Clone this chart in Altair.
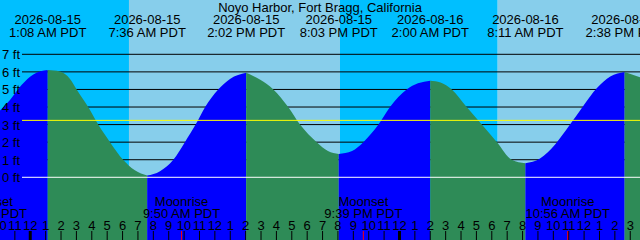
import altair as alt
import pandas as pd

# ---------------- data ----------------
title_text = "Noyo Harbor, Fort Bragg, California"

curve_times = [
    "2026-08-14 22:02", "2026-08-14 22:41", "2026-08-14 23:26", "2026-08-15 00:12",
    "2026-08-15 01:08", "2026-08-15 01:56", "2026-08-15 02:35", "2026-08-15 03:01",
    "2026-08-15 03:46", "2026-08-15 04:25", "2026-08-15 05:11", "2026-08-15 06:02",
    "2026-08-15 06:48", "2026-08-15 07:36", "2026-08-15 08:26", "2026-08-15 09:18",
    "2026-08-15 10:03", "2026-08-15 10:45", "2026-08-15 11:22", "2026-08-15 12:13",
    "2026-08-15 12:59", "2026-08-15 14:02", "2026-08-15 14:57", "2026-08-15 15:48",
    "2026-08-15 16:46", "2026-08-15 17:32", "2026-08-15 18:37", "2026-08-15 19:21",
    "2026-08-15 20:03", "2026-08-15 20:55", "2026-08-15 21:39", "2026-08-15 22:38",
    "2026-08-15 23:23", "2026-08-16 00:28", "2026-08-16 01:12", "2026-08-16 02:00",
    "2026-08-16 02:40", "2026-08-16 03:24", "2026-08-16 04:22", "2026-08-16 05:21",
    "2026-08-16 06:20", "2026-08-16 07:18", "2026-08-16 08:11", "2026-08-16 09:08",
    "2026-08-16 10:07", "2026-08-16 11:05", "2026-08-16 11:56", "2026-08-16 12:51",
    "2026-08-16 13:42", "2026-08-16 14:38", "2026-08-16 15:38",
]
curve_feet = [
    3.8, 4.4, 5.25, 5.85,
    6.1, 6.02, 5.6, 5.0,
    4.0, 3.0, 2.0, 1.0,
    0.4, 0.1, 0.35, 1.0,
    2.0, 3.0, 4.0, 5.0,
    5.6, 5.95, 5.55, 5.0,
    4.0, 3.0, 2.0, 1.5,
    1.33, 1.5, 2.0, 3.0,
    4.0, 5.0, 5.35, 5.5,
    5.4, 5.0, 4.0, 3.0,
    2.0, 1.0, 0.8, 1.07,
    1.87, 3.0, 4.05, 5.09,
    5.74, 6.0, 5.7,
]

extreme_times = ["2026-08-15 01:08", "2026-08-15 07:36", "2026-08-15 14:02", "2026-08-15 20:03",
                 "2026-08-16 02:00", "2026-08-16 08:11", "2026-08-16 14:38"]
extreme_kinds = ["high", "low", "high", "low", "high", "low", "high"]
extreme_dates = ["2026-08-15", "2026-08-15", "2026-08-15", "2026-08-15",
                 "2026-08-16", "2026-08-16", "2026-08-16"]
extreme_clock = ["1:08 AM PDT", "7:36 AM PDT", "2:02 PM PDT", "8:03 PM PDT",
                 "2:00 AM PDT", "8:11 AM PDT", "2:38 PM PDT"]

sun_times = ["2026-08-15 06:25", "2026-08-15 20:08", "2026-08-16 06:23"]   # rise, set, rise

moon_times = ["2026-08-14 21:15", "2026-08-15 09:50", "2026-08-15 21:39", "2026-08-16 10:56"]
moon_events = ["Moonset", "Moonrise", "Moonset", "Moonrise"]
moon_clock = ["9:15 PM PDT", "9:50 AM PDT", "9:39 PM PDT", "10:56 AM PDT"]

grid_feet = [1, 2, 3, 4, 5, 6, 7]
label_feet = [0, 1, 2, 3, 4, 5, 6, 7]
datum_feet = [0]
msl_feet = [3.24]

view_start = "2026-08-14 22:02"
view_end = "2026-08-16 15:38"

# ---------------- colours ----------------
NIGHT = "#00bfff"
DAY = "#87ceeb"
FLOOD = "#0000ff"
EBB = "#2e8b57"
FONT = "Liberation Sans"

# ---------------- helpers ----------------
ref = pd.Timestamp("2026-08-15 00:00")


def hrs(ts):
    return [(pd.Timestamp(t) - ref) / pd.Timedelta(hours=1) for t in ts]


x0, x1 = hrs([view_start, view_end])
xs = alt.Scale(domain=[x0, x1], nice=False, zero=False)
ys = alt.Scale(domain=[-3.569, 10.091], nice=False, zero=False)

# background bands
sun_h = hrs(sun_times)
edges = [x0] + sun_h + [x1]
band_rows = []
for i in range(len(edges) - 1):
    band_rows.append({"a": edges[i], "b": edges[i + 1], "c": NIGHT if i % 2 == 0 else DAY})
bands = alt.Chart(pd.DataFrame(band_rows)).mark_rect().encode(
    x=alt.X("a:Q", scale=xs, axis=None), x2="b:Q",
    y=alt.value(0), y2=alt.value(240),
    color=alt.Color("c:N", scale=None),
)

# gridlines
grid = alt.Chart(pd.DataFrame({"ft": grid_feet})).mark_rule(color="black", strokeWidth=1).encode(
    y=alt.Y("ft:Q", scale=ys, axis=None), x=alt.value(22), x2=alt.value(640)
)

# tide area split into flood / ebb segments
curve_h = hrs(curve_times)
ext_h = hrs(extreme_times)
bounds = [x0] + ext_h + [x1]
rows = []
for i in range(len(bounds) - 1):
    lo, hi = bounds[i], bounds[i + 1]
    if i < len(extreme_kinds):
        rising = extreme_kinds[i] == "high"
    else:
        rising = extreme_kinds[-1] == "low"
    for t, f in zip(curve_h, curve_feet):
        if lo - 1e-6 <= t <= hi + 1e-6:
            rows.append({"h": t, "ft": f, "seg": i, "c": FLOOD if rising else EBB})
tide = alt.Chart(pd.DataFrame(rows)).mark_area(interpolate="monotone").encode(
    x=alt.X("h:Q", scale=xs, axis=None),
    y=alt.Y("ft:Q", scale=ys, axis=None, stack=None),
    y2=alt.value(240),
    detail="seg:N",
    color=alt.Color("c:N", scale=None),
)

datum = alt.Chart(pd.DataFrame({"ft": datum_feet})).mark_rule(color="white", strokeWidth=1).encode(
    y=alt.Y("ft:Q", scale=ys, axis=None), x=alt.value(22), x2=alt.value(640)
)
msl = alt.Chart(pd.DataFrame({"ft": msl_feet})).mark_rule(color="yellow", strokeWidth=1).encode(
    y=alt.Y("ft:Q", scale=ys, axis=None), x=alt.value(22), x2=alt.value(640)
)

flabels = alt.Chart(pd.DataFrame({"ft": label_feet, "t": [f"{v} ft" for v in label_feet]})).mark_text(
    align="left", baseline="middle", font=FONT, fontSize=13, color="black", dy=1
).encode(y=alt.Y("ft:Q", scale=ys, axis=None), x=alt.value(2), text="t:N")

title = alt.Chart(pd.DataFrame({"t": [title_text]})).mark_text(
    align="center", baseline="middle", font=FONT, fontSize=13, color="black"
).encode(x=alt.value(320), y=alt.value(8), text="t:N")

ext_df = pd.DataFrame({"h": ext_h, "d": extreme_dates, "k": extreme_clock})
ext_date = alt.Chart(ext_df).mark_text(
    align="center", baseline="middle", font=FONT, fontSize=13, color="black"
).encode(x=alt.X("h:Q", scale=xs, axis=None), y=alt.value(20), text="d:N")
ext_time = alt.Chart(ext_df).mark_text(
    align="center", baseline="middle", font=FONT, fontSize=13, color="black"
).encode(x=alt.X("h:Q", scale=xs, axis=None), y=alt.value(32.5), text="k:N")

moon_df = pd.DataFrame({"h": hrs(moon_times), "e": moon_events, "k": moon_clock})
moon_name = alt.Chart(moon_df).mark_text(
    align="center", baseline="middle", font=FONT, fontSize=13, color="black"
).encode(x=alt.X("h:Q", scale=xs, axis=None), y=alt.value(202), text="e:N")
moon_time = alt.Chart(moon_df).mark_text(
    align="center", baseline="middle", font=FONT, fontSize=13, color="black"
).encode(x=alt.X("h:Q", scale=xs, axis=None), y=alt.value(214), text="k:N")

# hour ticks and labels
hour_rows = []
for hh in range(-2, 40):
    hour_rows.append({"h": hh, "lab": str((hh % 12) or 12), "w": 3 if hh % 24 == 0 else 1})
hour_df = pd.DataFrame(hour_rows)
hour_lab = alt.Chart(hour_df).mark_text(
    align="center", baseline="middle", font=FONT, fontSize=13, color="black"
).encode(x=alt.X("h:Q", scale=xs, axis=None), y=alt.value(226), text="lab:N")
hour_tick = alt.Chart(hour_df).mark_rule(color="black").encode(
    x=alt.X("h:Q", scale=xs, axis=None), y=alt.value(231), y2=alt.value(240),
    strokeWidth=alt.StrokeWidth("w:Q", scale=None),
)
moon_tick = alt.Chart(moon_df).mark_rule(color="red", strokeWidth=1).encode(
    x=alt.X("h:Q", scale=xs, axis=None), y=alt.value(231), y2=alt.value(240)
)

chart = alt.layer(
    bands, grid, tide, datum, msl, flabels, title, ext_date, ext_time,
    moon_name, moon_time, hour_lab, hour_tick, moon_tick
).properties(
    width=640, height=240, autosize=alt.AutoSizeParams(type="none"), padding=0
).configure_view(stroke=None)

chart.save("out.html", embed_options={"renderer": "svg", "actions": False})
